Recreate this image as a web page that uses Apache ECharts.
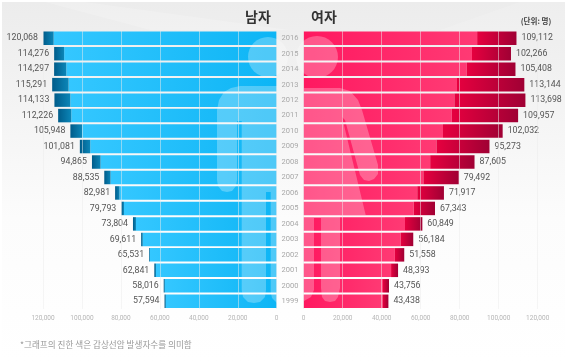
<!DOCTYPE html>
<html>
<head>
<meta charset="utf-8">
<style>
  html, body { margin: 0; padding: 0; background: #fff; }
  #chart { width: 567px; height: 363px; }
</style>
<script src="https://cdn.jsdelivr.net/npm/echarts@6/dist/echarts.min.js"></script>
</head>
<body>
<div id="chart"></div>
<script>
// bottom row first, category axis grows upward
const years = ['1999', '2000', '2001', '2002', '2003', '2004', '2005', '2006', '2007', '2008', '2009', '2010', '2011', '2012', '2013', '2014', '2015', '2016']
const maleTotal = [57594, 58016, 62841, 65531, 69611, 73804, 79793, 82981, 88535, 94865, 101081, 105948, 112226, 114133, 115291, 114297, 114276, 120068]
const maleThyroid = [680, 580, 850, 410, 850, 1540, 1370, 2290, 3250, 4440, 5350, 5980, 6750, 8150, 8440, 6260, 5130, 5540]
const femaleLabel = [43438, 43756, 48393, 51558, 56184, 60849, 67343, 71917, 79492, 87605, 95273, 102032, 109957, 113698, 113144, 105408, 102266, 109112]
// 2014, 2015 bars are drawn longer than their printed numbers in the source
const femaleBar = [43438, 43756, 48393, 51558, 56184, 60849, 67343, 71917, 79492, 87605, 95273, 102032, 109957, 113698, 113144, 108600, 106300, 109112]
const femaleThyroid = [2910, 3080, 3590, 4790, 6500, 8890, 10940, 13680, 18120, 22740, 27180, 30600, 34020, 36410, 34530, 24960, 20000, 20170]

const fmt = v => v.toLocaleString('en-US')
const grad = (a, b) => ({ type: 'linear', x: 0, y: 0, x2: 1, y2: 0, colorStops: [{ offset: 0, color: a }, { offset: 1, color: b }] })
const figure = 'rgba(255,255,255,0.27)'

const valueAxis = (gridIndex, inverse) => ({
  type: 'value',
  gridIndex,
  inverse,
  min: 0,
  max: 120000,
  interval: 20000,
  z: 4,
  axisLine: { show: false },
  axisTick: { show: false },
  splitLine: { lineStyle: { color: 'rgba(235,235,235,0.5)', width: 1 } },
  axisLabel: { color: '#b5b5b5', fontSize: 6.5, margin: 5.5, fontFamily: 'Roboto', formatter: fmt, showMinLabel: true, showMaxLabel: true }
})

const barLabel = (position, values) => ({
  show: true,
  position,
  distance: 5,
  color: '#555',
  fontSize: 8.8,
  fontFamily: 'Roboto',
  formatter: p => fmt(values[p.dataIndex])
})

const titleText = (text, left, top, align, fontSize, fontWeight, color) => ({
  text, left, top, padding: 0, textAlign: align, textVerticalAlign: 'middle',
  textStyle: { fontFamily: 'Noto Sans CJK KR', fontSize, fontWeight, color }
})

const option = {
  animation: false,
  backgroundColor: '#fff',
  title: [
    titleText('남자', 258, 17, 'center', 14, 'bold', '#333'),
    titleText('여자', 324, 17, 'center', 14, 'bold', '#333'),
    titleText('(단위: 명)', 536, 21, 'center', 7.5, 'bold', '#444'),
    titleText('*그래프의 진한 색은 갑상선암 발생자수를 의미함', 20, 345, 'left', 8.6, 'normal', '#999')
  ],
  grid: [
    { left: 43, top: 30.5, width: 233.7, height: 278.5 },
    { left: 303.7, top: 30.5, width: 234, height: 278.5 }
  ],
  xAxis: [valueAxis(0, true), valueAxis(1, false)],
  yAxis: [
    { type: 'category', gridIndex: 0, data: years, position: 'right', axisLine: { show: false }, axisTick: { show: false }, axisLabel: { show: false } },
    {
      type: 'category',
      gridIndex: 1,
      data: years,
      z: 4,
      axisLine: { show: false },
      axisTick: { show: false },
      axisLabel: { color: '#a8a8a8', fontSize: 7.5, fontFamily: 'Roboto', margin: 13.7, align: 'center' }
    }
  ],
  series: [
    {
      type: 'bar', xAxisIndex: 0, yAxisIndex: 0, stack: 'male', barWidth: 13.5,
      data: maleTotal.map((v, i) => v - maleThyroid[i]),
      itemStyle: { color: grad('#34C7FF', '#0DB5F5') }
    },
    {
      type: 'bar', xAxisIndex: 0, yAxisIndex: 0, stack: 'male', barWidth: 13.5,
      data: maleThyroid,
      itemStyle: { color: grad('#005C8A', '#0B86B8') },
      label: barLabel('left', maleTotal)
    },
    {
      type: 'bar', xAxisIndex: 1, yAxisIndex: 1, stack: 'female', barWidth: 13.5,
      data: femaleBar.map((v, i) => v - femaleThyroid[i]),
      itemStyle: { color: grad('#FF1860', '#FF3A74') }
    },
    {
      type: 'bar', xAxisIndex: 1, yAxisIndex: 1, stack: 'female', barWidth: 13.5,
      data: femaleThyroid,
      itemStyle: { color: grad('#E6003F', '#A00034') },
      label: barLabel('right', femaleLabel)
    }
  ],
  graphic: [
    // page panel, grey at the top fading out
    {
      type: 'rect', z: -10, silent: true,
      shape: { x: 2, y: 2, width: 563, height: 359 },
      style: { fill: { type: 'linear', x: 0, y: 0, x2: 0, y2: 1, colorStops: [{ offset: 0, color: '#ececec' }, { offset: 0.6, color: '#fcfcfc' }, { offset: 1, color: '#ffffff' }] } }
    },
    { type: 'polygon', z: -9, silent: true, shape: { points: [[45, 2], [150, 30], [290, 30], [85, 2]] }, style: { fill: 'rgba(255,255,255,0.18)' } },
    { type: 'polygon', z: -9, silent: true, shape: { points: [[440, 30], [520, 2], [565, 2], [565, 40]] }, style: { fill: 'rgba(255,255,255,0.15)' } },
    // person figure over the bars
    { type: 'circle', z: 3, silent: true, shape: { cx: 268, cy: 57, r: 20 }, style: { fill: figure } },
    { type: 'circle', z: 3, silent: true, shape: { cx: 317, cy: 57, r: 21 }, style: { fill: figure } },
    {
      type: 'polygon', z: 3, silent: true,
      shape: { points: [[277, 86], [240, 86], [231, 88], [224, 92], [219, 100], [217, 110], [217, 180], [218, 186], [222, 191], [227, 192], [232, 191], [236, 186], [237, 180], [237, 121], [241.7, 121], [241.7, 290], [243, 297], [248, 302], [254, 303], [260, 302], [265, 297], [266, 290], [266, 192], [270.7, 192], [270.7, 292], [272, 298], [277, 303]] },
      style: { fill: figure }
    },
    {
      type: 'polygon', z: 3, silent: true,
      shape: { points: [[304, 88], [340, 88], [350, 91], [358, 100], [362, 110], [378, 165], [378, 174], [374, 179], [369, 181], [364, 180], [360, 175], [345, 120], [342, 117], [365.7, 215], [340, 215], [340, 288], [338, 297], [335, 301], [330, 302], [325, 301], [322, 297], [321, 288], [321, 218], [314, 218], [314, 290], [311, 297], [304, 301]] },
      style: { fill: figure }
    }
  ]
}

const myChart = echarts.init(document.getElementById('chart'), null, { renderer: 'canvas' })
myChart.setOption(option)
</script>
</body>
</html>
